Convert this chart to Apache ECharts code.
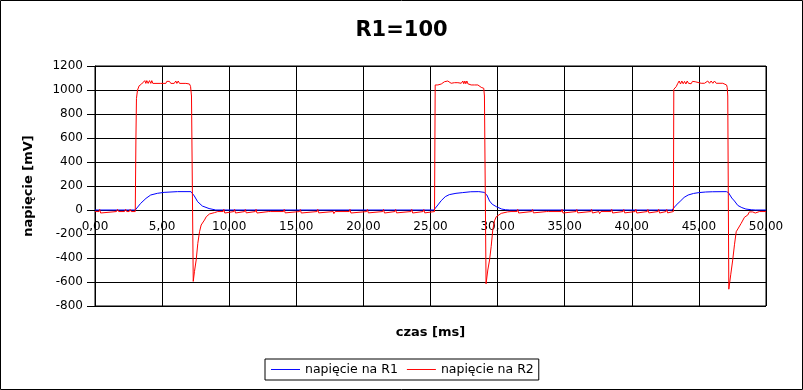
<!DOCTYPE html>
<html>
<head>
<meta charset="utf-8">
<script src="https://cdn.jsdelivr.net/npm/echarts@6/dist/echarts.min.js"></script>
<style>
html,body{margin:0;padding:0;background:#fff;}
#c{width:803px;height:390px;}
</style>
</head>
<body>
<div id="c"></div>
<script>
// ---- data (time in ms, voltage in mV) ----
const chartTitle = 'R1=100';
const seriesNames = ['napięcie na R1', 'napięcie na R2'];
const xTickValues = [0, 5, 10, 15, 20, 25, 30, 35, 40, 45, 50];
const yTickValues = [-800, -600, -400, -200, 0, 200, 400, 600, 800, 1000, 1200];

const r1Time = [0, 3.0, 3.1, 3.4, 3.8, 4.15, 4.65, 5.15, 6.15, 7.15, 7.4, 7.65, 8.0, 8.5, 9.0,
  25.25, 25.35, 25.55, 25.8, 26.1, 26.4, 26.9, 27.4, 28.0, 28.6, 29.0, 29.2, 29.4, 29.6, 29.9, 30.3, 30.6, 30.9,
  43.0, 43.1, 43.3, 43.6, 43.9, 44.2, 44.6, 45.0, 45.5, 46.0, 47.05, 47.2, 47.45, 47.65, 47.9, 48.2, 48.5, 48.9, 49.2, 50];
const r1Value = [0, 0, 5, 55, 97, 125, 139, 147, 153, 153, 117, 69, 33, 12, 0,
  0, 10, 42, 78, 111, 128, 139, 145, 152, 153, 147, 125, 75, 48, 28, 8, 2, 0,
  0, 8, 40, 72, 105, 125, 138, 145, 150, 152, 153, 145, 100, 75, 38, 20, 8, 2, 0, 0];

const r2Time = [0, 0.3, 0.35, 0.42, 0.5, 1.6, 1.68, 1.76, 2.2, 2.28, 2.36, 2.55, 2.62, 2.7, 3.0,
  3.05, 3.09, 3.17, 3.29, 3.47, 3.61, 3.71, 3.79, 3.86, 3.96, 4.06, 4.16, 4.23, 4.31, 4.9, 5.28, 5.35, 5.45, 5.55, 5.65,
  5.9, 6.02, 6.1, 6.2, 6.3, 6.77, 6.89, 7.04, 7.12, 7.19, 7.32, 7.41, 7.54, 7.66, 7.79, 7.91, 8.16, 8.29, 8.53, 8.9, 9.15,
  9.55, 9.6, 9.67, 9.75, 10.35, 10.4, 10.47, 10.55, 11.15, 11.2, 11.27, 11.35, 11.95, 12.0, 12.07, 12.15,
  12.95, 13.0, 13.1, 14.05, 14.1, 14.17, 14.25, 15.25, 15.3, 15.37, 15.45, 16.55, 16.6, 16.67, 16.75,
  17.75, 17.8, 17.9, 18.95, 19.0, 19.07, 19.15, 20.25, 20.3, 20.37, 20.45, 21.45, 21.5, 21.57, 21.65,
  22.35, 22.4, 22.47, 22.55, 23.55, 23.6, 23.67, 23.75, 24.45, 24.5, 24.57, 24.65, 25.3,
  25.35, 25.45, 25.55, 25.67, 25.8, 25.92, 26.04, 26.17, 26.29, 26.42, 26.54, 26.66, 26.79, 26.91, 27.04, 27.16, 27.29,
  27.41, 27.48, 27.56, 27.63, 27.71, 27.78, 27.91, 28.03, 28.15, 28.28, 28.4, 28.53, 28.65, 28.78, 28.9, 28.97, 29.02,
  29.14, 29.27, 29.4, 29.52, 29.64, 29.77, 29.9, 30.27, 30.74, 31.0,
  31.45, 31.5, 31.57, 31.65, 32.55, 32.6, 32.67, 32.75, 33.65, 33.7, 33.8, 34.75, 34.8, 34.87, 34.95,
  35.85, 35.9, 35.97, 36.05, 36.95, 37.0, 37.07, 37.15, 37.55, 37.6, 37.7, 38.45, 38.5, 38.57, 38.65,
  39.35, 39.4, 39.47, 39.55, 40.25, 40.3, 40.37, 40.45, 41.15, 41.2, 41.27, 41.35, 41.95, 42.0, 42.07, 42.15,
  42.55, 42.6, 42.67, 42.75, 43.1,
  43.13, 43.31, 43.43, 43.53, 43.63, 43.73, 43.83, 43.93, 44.03, 44.13, 44.22, 44.32, 44.42, 44.52, 44.62, 44.72, 44.82,
  45.17, 45.29, 45.42, 45.54, 45.66, 45.79, 45.91, 46.04, 46.16, 46.29, 46.78, 46.91, 47.06, 47.11, 47.15,
  47.23, 47.37, 47.52, 47.65, 47.78, 48.15, 48.4, 48.64, 48.76, 49.01, 49.2, 49.51, 50];
const r2Value = [-13, -13, 5, -25, -13, -13, 5, -13, -13, 5, -13, -13, 5, -13, -13,
  600, 930, 1000, 1035, 1050, 1055, 1078, 1055, 1078, 1055, 1078, 1055, 1078, 1055, 1055, 1055, 1072, 1060, 1072, 1055,
  1055, 1075, 1055, 1075, 1055, 1055, 1048, 1050, 1030, 950, -595, -514, -417, -278, -181, -125, -83, -56, -33, -22, -13,
  -13, 5, -25, -13, -13, 5, -25, -13, -13, 4, -24, -13, -13, 5, -25, -13,
  -13, -28, -13, -13, 5, -24, -13, -13, 4, -25, -13, -13, 5, -24, -13,
  -13, -30, -13, -13, 5, -25, -13, -13, 4, -24, -13, -13, 5, -25, -13,
  -13, 4, -24, -13, -13, 5, -25, -13, -13, 4, -24, -13, -13,
  1042, 1056, 1042, 1045, 1050, 1061, 1069, 1056, 1075, 1069, 1056, 1069, 1061, 1075, 1061, 1069, 1056,
  1075, 1052, 1075, 1052, 1075, 1052, 1061, 1042, 1050, 1042, 1033, 1042, 1033, 1022, 1028, 1014, 950,
  -615, -500, -417, -305, -167, -90, -56, -28, -16, -13,
  -13, 5, -25, -13, -13, 4, -24, -13, -13, -26, -13, -13, 5, -25, -13,
  -13, 4, -24, -13, -13, 5, -25, -13, -13, -30, -13, -13, 5, -25, -13,
  -13, 4, -24, -13, -13, 5, -25, -13, -13, 4, -24, -13, -13, 5, -25, -13,
  -13, 4, -24, -13, -13,
  1006, 1028, 1056, 1075, 1050, 1075, 1052, 1072, 1050, 1075, 1056, 1069, 1052, 1072, 1056, 1069, 1056,
  1056, 1069, 1056, 1056, 1075, 1056, 1075, 1056, 1075, 1056, 1056, 1047, 1042, 1022, 950,
  -660, -540, -417, -290, -181, -111, -60, -42, -16, -16, -25, -13, -13];

// ---- build ----
function zip(t, v) { return t.map((x, i) => [x, v[i]]); }
const font = 'DejaVu Sans';
const gridTop = 66, gridHeight = 240;
const yMin = yTickValues[0], yMax = yTickValues[yTickValues.length - 1];
// move the x axis up to the zero level (onZero placement)
const zeroOffset = -gridHeight * (0 - yMin) / (yMax - yMin);

const chart = echarts.init(document.getElementById('c'), null, {renderer: 'canvas'});
chart.setOption({
  animation: false,
  backgroundColor: '#fff',
  textStyle: {fontFamily: font, color: '#000'},
  title: {
    text: chartTitle, left: 'center', top: 20, padding: 0,
    textStyle: {fontFamily: font, fontSize: 21, fontWeight: 'bold', color: '#000'}
  },
  legend: {
    data: seriesNames.map(n => ({name: n})),
    left: 265, top: 359, padding: [4, 5, 4, 6],
    borderColor: '#000', borderWidth: 1, backgroundColor: '#fff',
    itemWidth: 29, itemHeight: 1, itemGap: 9,
    icon: 'path://M0,0L30,0L30,1L0,1Z',
    textStyle: {fontFamily: font, fontSize: 12.5, color: '#000', padding: [0, 0, 0, 0]}
  },
  grid: {left: 95, top: gridTop, width: 671, height: gridHeight, show: true, borderColor: '#000', borderWidth: 1,
    containLabel: false, outerBoundsMode: 'none'},
  xAxis: {
    type: 'value', min: xTickValues[0], max: xTickValues[xTickValues.length - 1],
    interval: xTickValues[1] - xTickValues[0],
    position: 'bottom', offset: zeroOffset,
    name: 'czas [ms]', nameLocation: 'middle', nameGap: 116,
    nameTextStyle: {fontFamily: font, fontSize: 13, fontWeight: 'bold', color: '#000'},
    axisLine: {show: true, onZero: false, lineStyle: {color: '#000', width: 1}},
    axisTick: {show: false},
    axisLabel: {margin: 11, fontFamily: font, fontSize: 12, color: '#000',
      formatter: v => v.toFixed(2).replace('.', ',')},
    splitLine: {show: true, lineStyle: {color: '#000', width: 1}}
  },
  yAxis: {
    type: 'value', min: yMin, max: yMax,
    interval: yTickValues[1] - yTickValues[0],
    name: 'napięcie [mV]', nameLocation: 'middle', nameGap: 60, nameRotate: 90,
    nameTextStyle: {fontFamily: font, fontSize: 13, fontWeight: 'bold', color: '#000'},
    axisLine: {show: true, onZero: false, lineStyle: {color: '#000'}},
    axisTick: {show: true, inside: false, length: 8, lineStyle: {color: '#000'}},
    axisLabel: {margin: 12, fontFamily: font, fontSize: 12, color: '#000', formatter: v => String(v)},
    splitLine: {show: true, lineStyle: {color: '#000', width: 1}}
  },
  graphic: [{
    type: 'rect', silent: true, z: 100,
    shape: {x: 0.5, y: 0.5, width: 802, height: 389},
    style: {fill: 'none', stroke: '#000', lineWidth: 1}
  }],
  series: [
    {name: seriesNames[0], type: 'line', data: zip(r1Time, r1Value), showSymbol: false, symbol: 'none',
      color: '#0000ff', lineStyle: {color: '#0000ff', width: 1}, z: 3},
    {name: seriesNames[1], type: 'line', data: zip(r2Time, r2Value), showSymbol: false, symbol: 'none',
      color: '#ff0000', lineStyle: {color: '#ff0000', width: 1}, z: 4}
  ]
});
</script>
</body>
</html>
